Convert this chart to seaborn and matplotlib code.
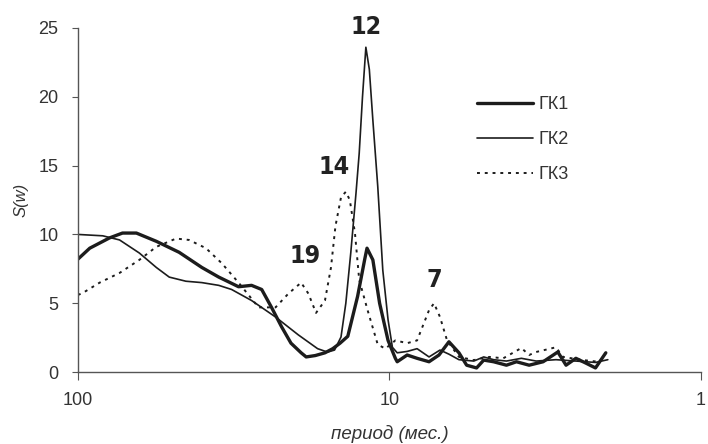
import matplotlib
matplotlib.use("Agg")
import matplotlib.pyplot as plt
import seaborn as sns
import pandas as pd
from matplotlib.ticker import FixedLocator, NullLocator, FixedFormatter

# Spectral density S(w) against period (months)
gk1_period = [100, 91.6, 79.1, 71.9, 64.9, 56.0, 47.3, 40.0, 35.3, 32.8, 30.5, 27.7,
              25.7, 23.9, 22.2, 20.7, 19.2, 18.5, 17.3, 16.1, 15.2, 14.4, 13.6,
              12.65, 12.0, 11.8, 11.3, 10.75, 10.1, 9.57, 9.44, 8.77, 8.15, 7.46,
              6.93, 6.44, 5.98, 5.65, 5.25, 4.98, 4.63, 4.21, 3.91, 3.56, 3.21,
              2.88, 2.71, 2.52, 2.34, 2.18, 2.02]
gk1_s = [8.2, 9.0, 9.75, 10.1, 10.1, 9.5, 8.7, 7.6, 6.9, 6.55, 6.2, 6.3,
         6.0, 4.7, 3.3, 2.1, 1.4, 1.1, 1.2, 1.4, 1.7, 2.1, 2.6,
         5.5, 8.2, 9.0, 8.15, 5.0, 2.3, 1.0, 0.75, 1.24, 1.0, 0.75,
         1.24, 2.2, 1.4, 0.5, 0.3, 0.87, 0.75, 0.5, 0.75, 0.5, 0.75,
         1.46, 0.5, 1.0, 0.65, 0.3, 1.4]

gk2_period = [100, 83.2, 73.5, 63.5, 56.0, 50.9, 45.0, 40.0, 35.3, 32.1, 27.7, 23.2,
              19.6, 17.0, 15.8, 15.0, 14.3, 13.8, 13.3, 12.8, 12.5, 12.2, 11.9,
              11.6, 11.3, 10.9, 10.5, 10.1, 9.78, 9.44, 8.77, 8.15, 7.46, 6.88,
              6.44, 5.98, 5.36, 4.98, 4.63, 4.21, 3.77, 3.38, 2.92, 2.52, 2.18, 1.99]
gk2_s = [10.0, 9.9, 9.6, 8.65, 7.6, 6.9, 6.6, 6.5, 6.3, 6.0, 5.2, 4.0,
         2.7, 1.7, 1.45, 1.6, 2.55, 5.0, 8.7, 13.0, 15.9, 20.0, 23.6,
         22.0, 18.3, 13.5, 7.4, 3.8, 1.8, 1.4, 1.5, 1.7, 1.1, 1.6,
         1.3, 0.9, 0.8, 1.1, 0.9, 0.8, 1.0, 0.8, 0.9, 0.8, 0.7, 0.9]

gk3_period = [100, 96.4, 85.1, 73.5, 63.5, 56.0, 48.4, 44.0, 38.8, 34.5, 30.5, 26.3,
              23.2, 21.1, 19.2, 18.2, 17.2, 16.1, 15.4, 14.9, 14.3, 13.8, 13.4,
              12.9, 12.5, 11.75, 10.9, 10.3, 9.57, 8.77, 8.15, 7.46, 7.19, 6.88,
              6.53, 5.98, 5.36, 4.77, 4.31, 3.77, 3.56, 3.38, 2.92, 2.77, 2.39,
              2.13, 2.02]
gk3_s = [5.6, 5.75, 6.5, 7.2, 8.15, 9.1, 9.7, 9.6, 9.0, 7.9, 6.5, 4.7,
         4.7, 5.7, 6.5, 5.7, 4.3, 5.2, 7.6, 10.6, 12.7, 13.1, 12.5,
         10.1, 6.7, 4.5, 2.0, 1.7, 2.3, 2.1, 2.3, 4.5, 5.0, 4.0,
         2.3, 1.1, 0.87, 1.1, 1.0, 1.75, 1.24, 1.46, 1.8, 1.1, 0.87,
         0.75, 1.1]

series_names = ["ГК1", "ГК2", "ГК3"]

# peak annotations (period in months)
peak_labels = ["12", "14", "19", "7"]
peak_x = [11.9, 15.0, 18.7, 7.19]
peak_y = [25.1, 14.9, 8.4, 6.7]

x_ticks = [100, 10, 1]
y_ticks = [0, 5, 10, 15, 20, 25]

sns.set_style("ticks")
plt.rcParams["font.family"] = ["Liberation Sans", "DejaVu Sans"]

ink = "#1c1c1c"
txt = "#333333"

fig = plt.figure(figsize=(7.08, 4.44), dpi=100)
ax = fig.add_axes([0.110, 0.162, 0.880, 0.775])

styles = [
    dict(lw=2.4, linestyle="-"),
    dict(lw=1.2, linestyle="-"),
    dict(lw=1.4, linestyle=(0, (1.5, 2.5))),
]
data = [(gk1_period, gk1_s), (gk2_period, gk2_s), (gk3_period, gk3_s)]
for name, (px, sy), st in zip(series_names, data, styles):
    df = pd.DataFrame({"period": px, "S": sy})
    sns.lineplot(data=df, x="period", y="S", ax=ax, color=ink, label=name,
                 estimator=None, sort=False, **st)

ax.set_xscale("log")
ax.set_xlim(100, 1)
ax.set_ylim(0, 25)
ax.xaxis.set_major_locator(FixedLocator(x_ticks))
ax.xaxis.set_major_formatter(FixedFormatter([str(t) for t in x_ticks]))
ax.xaxis.set_minor_locator(NullLocator())
ax.set_yticks(y_ticks)

sns.despine(ax=ax)
for side in ["left", "bottom"]:
    ax.spines[side].set_color("#555555")
    ax.spines[side].set_linewidth(1.0)
ax.tick_params(axis="x", length=6, pad=8, labelsize=13, colors=txt)
ax.tick_params(axis="y", length=4, pad=10, labelsize=13, colors=txt)
ax.tick_params(color="#555555")

ax.set_xlabel("период (мес.)", fontsize=13.5, style="italic", color=txt)
ax.set_ylabel("S(w)", fontsize=12, style="italic", color=txt)
ax.xaxis.set_label_coords(0.5, -0.155)
ax.yaxis.set_label_coords(-0.08, 0.5)

for lab, x, y in zip(peak_labels, peak_x, peak_y):
    ax.text(x, y, lab, ha="center", va="center", fontsize=18, fontweight="bold",
            family="DejaVu Sans", fontstretch="condensed", color="#222222",
            clip_on=False)

leg = ax.legend(loc="upper left", bbox_to_anchor=(0.615, 0.85), frameon=False,
                fontsize=13, handlelength=3.1, labelspacing=1.0, handletextpad=0.3)
for t in leg.get_texts():
    t.set_color(txt)

fig.savefig("out.png", dpi=100, facecolor="white")
